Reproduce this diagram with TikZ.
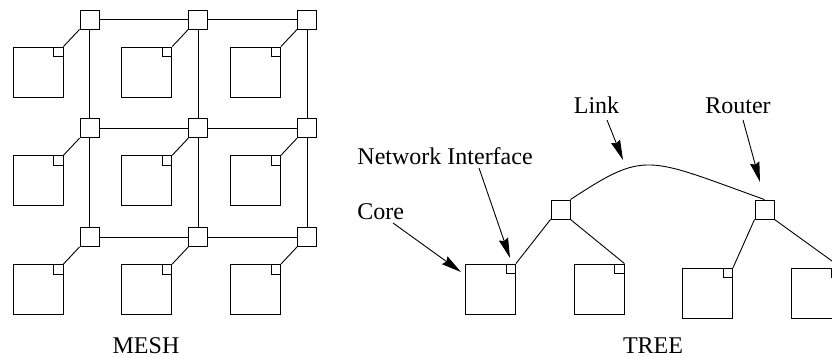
\documentclass[tikz,border=0pt]{standalone}
\usepackage{fontspec}
\setmainfont{Liberation Serif}
\usetikzlibrary{arrows.meta}
\begin{document}
\begin{tikzpicture}[x=1pt,y=-1pt,line width=0.9pt,
  router/.style={draw,rectangle,minimum size=19pt,inner sep=0pt},
  core/.style={draw,rectangle,minimum size=50pt,inner sep=0pt},
  ni/.style={draw,rectangle,minimum size=9.5pt,inner sep=0pt,anchor=north east},
  callout/.style={-{Stealth[length=20pt,width=9.5pt,inset=2pt]}},
  lbl/.style={font=\fontsize{24}{28}\selectfont,inner sep=0pt,anchor=base}]
\useasboundingbox (0,0) rectangle (832,358);
\clip (0,0) rectangle (832,358);

% ---- 3x3 mesh: router, core and network interface per tile ----
\foreach \i in {1,2,3}{
  \foreach \j in {1,2,3}{
    \node[router] (r\i\j) at ({89.5+108.75*(\i-1)},{19.5+108.75*(\j-1)}) {};
    \node[core] (c\i\j) at ({38+108.75*(\i-1)},{72+108.75*(\j-1)}) {};
    \node[ni] (n\i\j) at (c\i\j.north east) {};
    \draw (r\i\j.south west) -- (n\i\j.north east);
  }
}
% mesh links
\foreach \j in {1,2,3}{
  \draw (r1\j) -- (r2\j);
  \draw (r2\j) -- (r3\j);
}
\foreach \i in {1,2,3}{
  \draw (r\i1) -- (r\i2);
  \draw (r\i2) -- (r\i3);
}

% ---- tree ----
\node[router] (ta) at (560.5,209.5) {};
\node[router] (tb) at (764.5,209.5) {};
\node[core] (ca) at (490.5,289) {};
\node[core] (cb) at (599,289) {};
\node[core] (cc) at (707.5,293.3) {};
\node[core] (cd) at (816,293.3) {};
\node[ni] (na) at (ca.north east) {};
\node[ni] (nb) at (cb.north east) {};
\node[ni] (nc) at (cc.north east) {};
\node[ni] (nd) at (cd.north east) {};
\draw (ta.south west) -- (na.north east);
\draw (ta.south east) -- (nb.north east);
\draw (tb.south west) -- (nc.north east);
\draw (tb.south east) -- (nd.north east);
\draw (ta.north east) .. controls (646,150) and (646,157) .. (tb.north);

% ---- labels ----
\node[lbl] (mesh) at (146,353) {MESH};
\node[lbl] (tree) at (653,353) {TREE};
\node[lbl] (lnk) at (596.5,114) {Link};
\node[lbl] (rtr) at (738,114) {Router};
\node[lbl,anchor=base west] (nif) at (357,165) {Network Interface};
\node[lbl,anchor=base west] (cor) at (357,219.5) {Core};

% ---- callout arrows ----
\coordinate (corS) at (393,223);
\coordinate (corT) at (461,272);
\coordinate (nifS) at (479,168);
\coordinate (nifT) at (510,258);
\coordinate (lnkS) at (607,120);
\coordinate (lnkT) at (623,160);
\coordinate (rtrS) at (743,120);
\coordinate (rtrT) at (760,182);
\draw[callout] (corS) -- (corT);
\draw[callout] (nifS) -- (nifT);
\draw[callout] (lnkS) -- (lnkT);
\draw[callout] (rtrS) -- (rtrT);
\end{tikzpicture}
\end{document}
